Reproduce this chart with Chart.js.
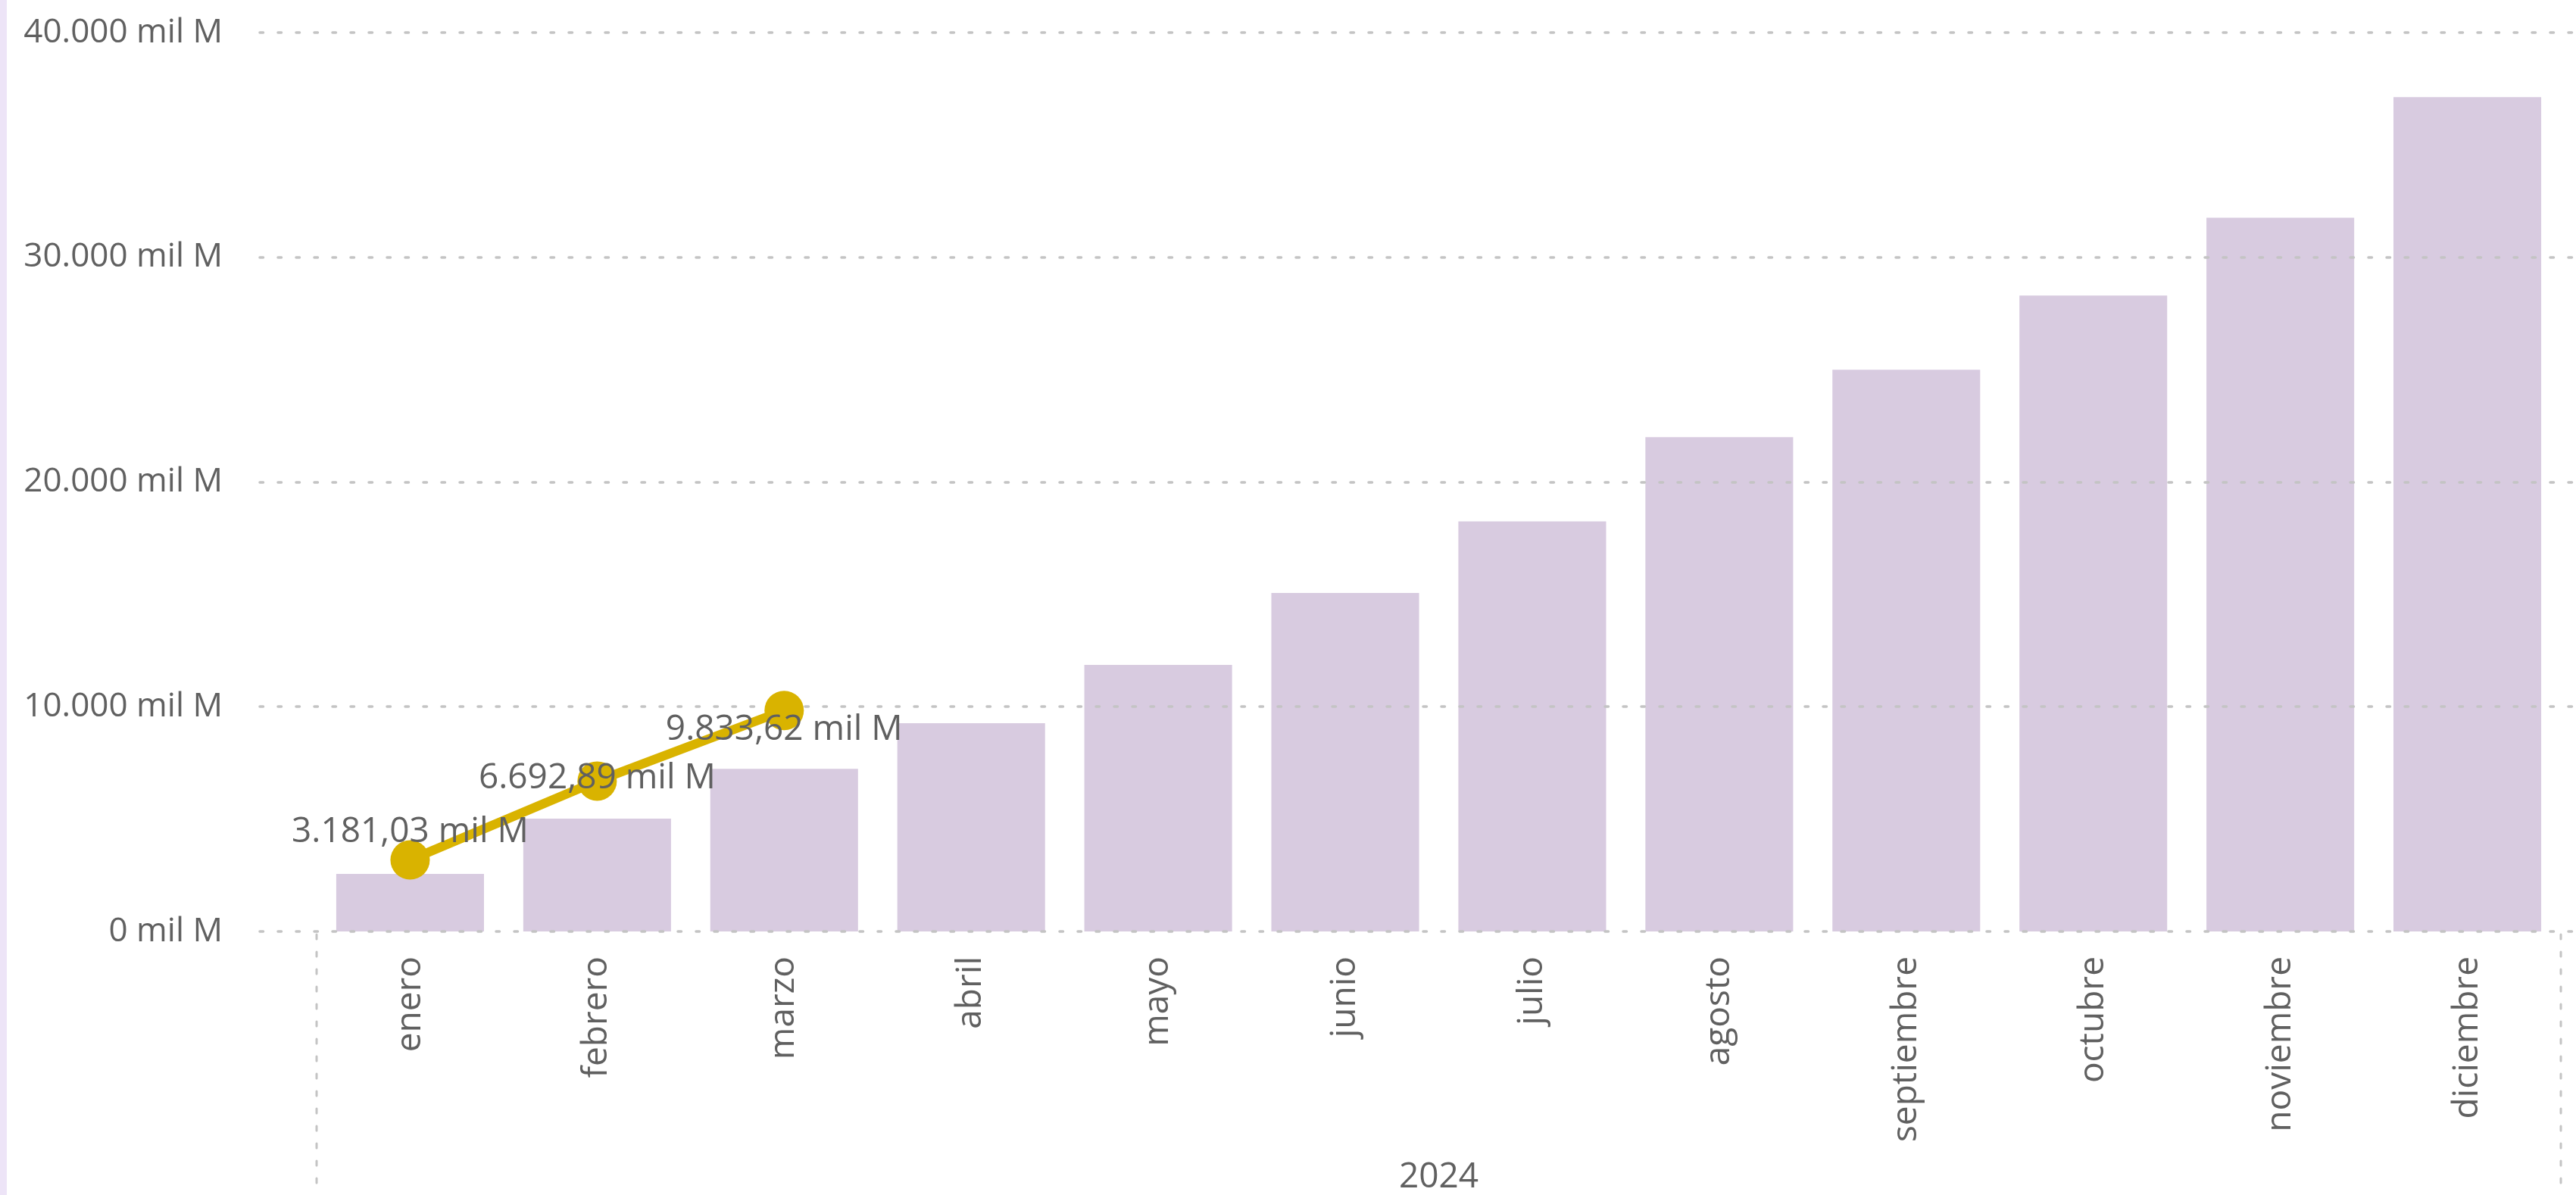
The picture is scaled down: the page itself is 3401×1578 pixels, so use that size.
<!DOCTYPE html>
<html>
<head>
<meta charset="utf-8">
<script src="https://cdn.jsdelivr.net/npm/chart.js@4"></script>
<style>
  html, body { margin: 0; padding: 0; background: #fff; }
  #wrap { width: 3401px; height: 1578px; position: relative; }
</style>
</head>
<body>
<div id="wrap"><canvas id="chart"></canvas></div>
<script>
// Months and values (mil M)
const months = ['enero', 'febrero', 'marzo', 'abril', 'mayo', 'junio', 'julio',
    'agosto', 'septiembre', 'octubre', 'noviembre', 'diciembre'];
const barValues = [2560, 5020, 7240, 9270, 11860, 15060, 18250, 22000, 25000, 28300, 31760, 37130];
const lineValues = [3181.03, 6692.89, 9833.62, null, null, null, null, null, null, null, null, null];
const yTicks = [0, 10000, 20000, 30000, 40000];
const yearLabel = '2024';

// label nudges for the line values (px, relative to each point)
const labelNudge = [-37, -3, 26];

const textColor = '#606060';
const gridColor = '#c4c4c4';
const fontFamily = "'Open Sans', 'Noto Sans', sans-serif";
const fontSize = 46;

const fmtEs = (v, dec) => v.toLocaleString('es-ES', {
    minimumFractionDigits: dec, maximumFractionDigits: dec, useGrouping: 'always'
}) + ' mil M';

// grid lines drawn right after the bars, so they sit over the bars but under the line
const gridPlugin = {
    id: 'pbiGrid',
    beforeDraw(chart) {
        const ctx = chart.ctx;
        ctx.save();
        ctx.fillStyle = '#ede4f7';
        ctx.fillRect(0, 0, 9, chart.height);
        ctx.restore();
    },
    afterDatasetDraw(chart, args) {
        if (args.meta.type !== 'bar') return;
        const ctx = chart.ctx;
        const y = chart.scales.y;
        const x = chart.scales.x;
        ctx.save();
        ctx.strokeStyle = gridColor;
        ctx.lineWidth = 3.5;
        ctx.lineCap = 'round';
        ctx.setLineDash([4.5, 19.5]);
        yTicks.forEach(t => {
            const py = Math.round(y.getPixelForValue(t));
            ctx.beginPath();
            ctx.moveTo(chart.chartArea.left - 75, py);
            ctx.lineTo(chart.width, py);
            ctx.stroke();
        });
        // hierarchy separators below the axis
        ctx.lineWidth = 3;
        ctx.setLineDash([6, 17]);
        [x.left, x.right].forEach(px => {
            ctx.beginPath();
            ctx.moveTo(px, chart.chartArea.bottom + 4);
            ctx.lineTo(px, chart.height);
            ctx.stroke();
        });
        ctx.restore();
    },
    afterDatasetsDraw(chart) {
        const ctx = chart.ctx;
        const meta = chart.getDatasetMeta(0);
        ctx.save();
        ctx.fillStyle = textColor;
        ctx.font = fontSize + 'px ' + fontFamily;
        ctx.textAlign = 'center';
        ctx.textBaseline = 'middle';
        meta.data.forEach((pt, i) => {
            const v = lineValues[i];
            if (v === null || v === undefined) return;
            ctx.fillText(fmtEs(v, 2), pt.x, pt.y + labelNudge[i]);
        });
        ctx.restore();
    }
};

new Chart(document.getElementById('chart'), {
    data: {
        labels: months,
        datasets: [
            {
                type: 'line',
                label: 'Acumulado',
                data: lineValues,
                order: 0,
                borderColor: '#d9b300',
                backgroundColor: '#d9b300',
                borderWidth: 12,
                pointRadius: 26,
                pointHoverRadius: 26,
                pointBorderWidth: 0,
                spanGaps: false,
                tension: 0
            },
            {
                type: 'bar',
                label: 'Meta',
                data: barValues,
                order: 1,
                backgroundColor: '#d8cbe0',
                categoryPercentage: 1,
                barPercentage: 0.79
            }
        ]
    },
    options: {
        responsive: true,
        maintainAspectRatio: false,
        animation: false,
        events: [],
        layout: { autoPadding: false, padding: { top: 43, right: 20, left: 0, bottom: 0 } },
        plugins: {
            legend: { display: false },
            tooltip: { enabled: false }
        },
        scales: {
            x: {
                grid: { display: false },
                border: { display: false },
                ticks: {
                    color: textColor,
                    font: { family: fontFamily, size: fontSize },
                    minRotation: 90,
                    maxRotation: 90,
                    autoSkip: false,
                    padding: 25
                },
                title: {
                    display: true,
                    text: yearLabel,
                    color: textColor,
                    font: { family: fontFamily, size: fontSize, lineHeight: 1 },
                    padding: 0
                },
                afterFit(scale) {
                    scale.height = 348;
                    scale.paddingLeft = 0;
                    scale.paddingRight = 0;
                }
            },
            y: {
                min: 0,
                max: 40000,
                grid: { display: false },
                border: { display: false },
                ticks: {
                    stepSize: 10000,
                    color: textColor,
                    font: { family: fontFamily, size: 44 },
                    padding: 116,
                    callback: v => fmtEs(v, 0)
                },
                afterFit(scale) {
                    scale.width = 418;
                    scale.paddingTop = 0;
                    scale.paddingBottom = 0;
                }
            }
        }
    },
    plugins: [gridPlugin]
});
</script>
</body>
</html>
